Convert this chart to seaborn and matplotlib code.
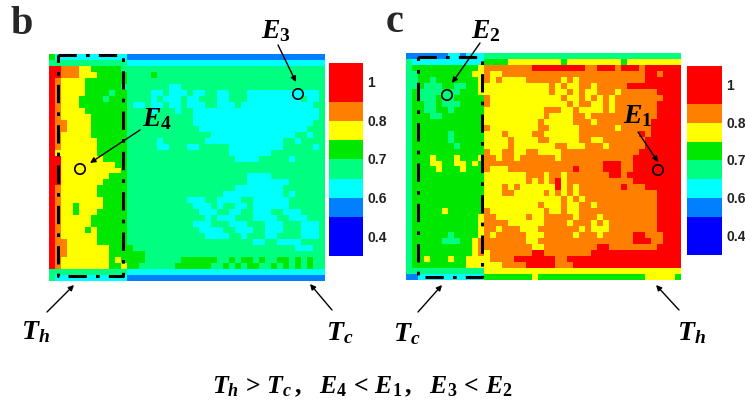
#!/usr/bin/env python3
import numpy as np
import matplotlib
matplotlib.use("Agg")
import matplotlib.pyplot as plt
from matplotlib.colors import ListedColormap
from matplotlib.patches import Circle
import seaborn as sns

# colour bands, low to high
LEVEL_COLORS = ["#0000FF", "#0080FF", "#00FFFF", "#00FF80", "#00E800", "#FFFF00", "#FF8000", "#FF0000"]
CBAR_LEVELS = [7, 7, 6, 5, 4, 3, 2, 1, 0, 0]
CBAR_TICKS = ["1", "0.8", "0.7", "0.6", "0.4"]

# band index per cell (row = top to bottom)
MAP_B = [
    "4222222222222111111111111111111111111111111111",
    "3333333333333222222222222222222222222222222222",
    "7766655444443333333333333333333333333333333333",
    "7766655544444333343333333333333333333333333333",
    "7655554444444333333333333333333333333333333333",
    "7655554444443333333322333333333333333333333333",
    "7655554444344333322322232233223332222222222223",
    "7655544443444333323222322333223332222222223223",
    "7655544444444322322322322233222322222222222233",
    "7655554444444333323332332222222222222222222223",
    "7655555444444333333333332222222222222222222223",
    "7665555444444333333333332222222222222222222233",
    "7665555444444333333333333222222222222222222333",
    "7655555444444333333333333332222222222222233233",
    "7655555544444333332333333322222222222223323333",
    "7655555544444333332233322333332222222223333323",
    "7555555544444333333333333333332222222333333333",
    "7755555554444333333333333333333222233333233333",
    "7755555555544333333333333333333333333333333333",
    "7755555555554333333333333333333333333333333333",
    "7755555555444333333333333333333332222333333333",
    "7755555554444333333333333333333332222222333333",
    "7655555544444333333333333333333222222223333333",
    "7655555544444333333333333333322222222223233333",
    "7655555554444333333333322233222233222222333333",
    "7655455554444333333333332223233223222222333333",
    "7655455544444333333333333222332233222332223333",
    "7655555444444333333333333323222333222233222333",
    "7655555444444333333333332223332223332223332223",
    "7655554544444333333333333222233222332223332223",
    "7655555544444333333333333322223323332233332223",
    "7665555544444333333333333333333333223322223333",
    "7665555555444433333333333333333333333333322233",
    "7665555555444444333333333333333333333333333333",
    "7655555555454444333333444444334344343344343433",
    "7655555555445443333334444443343434433434343433",
    "3333333333333222222222222222222222222222222222",
    "3222222222222111111111111111111111111111111111",
]

MAP_C = [
    "1111111221222333333333333333333333333333333333",
    "3222222222222444455555555545555555554555555555",
    "3444444444445666666667777777776677767776777777",
    "3344444444455655666666666666666666666666776777777",
    "3344344444445656555566666656566666666666777777",
    "3343334433445555555555556565566566666777777777",
    "3433333334445555555555556556565566656666667777",
    "3433343344444655555555555565565656566666666777",
    "3443343334444655555555555556566556566666667777",
    "3443344344444555555555566655655556566666667777",
    "3444334444444555555555565555665666666666667777",
    "3444444444444555555555655555666566666666677777",
    "3444444444444655555555665555566666656666677777",
    "3444444344444555655556655555566666666667677777",
    "3444444344444555565555665555566556666666777777",
    "3444444434444555565555555665556665666666777777",
    "3444444444444655665566555566666666666667777777",
    "3444544454445665665666666566666666666677777777",
    "3444554455454666666666666666666667776677777777",
    "3444454445444655566666666666766667776677777777",
    "3444444444444555555566656656666666776777777777",
    "3444444444444555555565656756666666666677777777",
    "3444444444444555656555555756566666667666777777",
    "3444444444444555665555565656566666666666667777",
    "3444444444444555555555555565656666666666667777",
    "3444444444444555555555655565566566666666667777",
    "3444445444444655555555565565566666666666667777",
    "3444444444445665555565566666566656666666667777",
    "3444444444445666655555566665666565666666667777",
    "3444444444445665666555666666656555666666667777",
    "3444444344445656666655566666566656666677666777",
    "3444443334456666666655666666666666666677766777",
    "3444444444456666666665566666666677666666667777",
    "3444444444456566666667766666666777777777777777",
    "3445444544555566667777777667777777777777777777",
    "3444444444555555666677777666777777777777777777",
    "3333333333333555555555555555555555555555555555",
    "1122222222222444444445444444444444444444555554",
]


def to_grid(rows, width=46):
    rows = [r.ljust(width, r[-1])[:width] for r in rows]
    return np.array([[int(ch) for ch in r] for r in rows])


FIG_W, FIG_H = 745, 411


def px_axes(fig, left, top, right, bottom):
    return fig.add_axes([left / FIG_W, 1 - bottom / FIG_H, (right - left) / FIG_W, (bottom - top) / FIG_H])


def draw_map(fig, rows, box):
    ax = px_axes(fig, *box)
    sns.heatmap(to_grid(rows), cmap=cmap, vmin=-0.5, vmax=7.5, cbar=False,
                xticklabels=False, yticklabels=False, ax=ax)
    return ax


def draw_cbar(fig, box):
    ax = px_axes(fig, *box)
    sns.heatmap(np.array(CBAR_LEVELS).reshape(-1, 1), cmap=cmap, vmin=-0.5, vmax=7.5, cbar=False,
                xticklabels=False, yticklabels=False, ax=ax)
    for i, lab in enumerate(CBAR_TICKS):
        ax.text(1.12, 2 * i + 1.05, lab, fontsize=10, fontweight="bold", color="#222222",
                family="Liberation Sans", va="center", ha="left", transform=ax.get_yaxis_transform())
    return ax


sns.set_theme(style="white")
plt.rcParams["mathtext.fontset"] = "custom"
plt.rcParams["mathtext.rm"] = "Liberation Serif"
plt.rcParams["mathtext.it"] = "Liberation Serif:italic"
plt.rcParams["mathtext.bf"] = "Liberation Serif:bold"
plt.rcParams["mathtext.bfit"] = "Liberation Serif:italic:bold"

cmap = ListedColormap(LEVEL_COLORS)

fig = plt.figure(figsize=(FIG_W / 100, FIG_H / 100), dpi=100)
draw_map(fig, MAP_B, (49, 54, 325, 281))
draw_map(fig, MAP_C, (406, 53, 681, 280))
draw_cbar(fig, (329, 63, 363, 256))
draw_cbar(fig, (687, 66, 722, 255))

# annotations live on a transparent overlay in image pixels
over = fig.add_axes([0, 0, 1, 1], facecolor="none")
over.set_xlim(0, FIG_W)
over.set_ylim(FIG_H, 0)
over.axis("off")

for x0, y0, x1, y1 in [(58, 55, 123, 276), (418, 57, 482, 277)]:
    over.plot([x0, x1, x1, x0, x0], [y0, y0, y1, y1, y0], color="black", lw=2.2,
              linestyle=(0, (6, 3, 1.2, 3)))

for cx, cy in [(80, 169), (298, 94), (447, 95), (658, 170)]:
    over.add_patch(Circle((cx, cy), 5.2, fill=False, ec="black", lw=1.2))

ARROWS = [
    ((47, 312), (74, 285)), ((332, 310), (310, 284)),
    ((418, 312), (442, 285)), ((679, 310), (656, 285)),
    ((140, 130), (90, 163)), ((278, 45), (296, 82)),
    ((480, 43), (452, 83)), ((638, 132), (658, 162)),
]
for start, end in ARROWS:
    over.annotate("", xy=end, xytext=start,
                  arrowprops=dict(arrowstyle="-|>", color="black", lw=1.0, mutation_scale=8, shrinkA=0, shrinkB=0))

over.text(22, 24, "b", fontsize=29, fontweight="bold", family="Liberation Serif", ha="center", va="center")
over.text(395, 23, "c", fontsize=29, fontweight="bold", family="Liberation Serif", ha="center", va="center")

SYMBOLS = [
    (276, 30, r"$\mathbfit{E}_{\mathbf{3}}$"), (157, 118, r"$\mathbfit{E}_{\mathbf{4}}$"),
    (486, 30, r"$\mathbfit{E}_{\mathbf{2}}$"), (638, 115, r"$\mathbfit{E}_{\mathbf{1}}$"),
    (36, 331, r"$\mathbfit{T}_{\mathbfit{h}}$"), (340, 332, r"$\mathbfit{T}_{\mathbfit{c}}$"),
    (407, 333, r"$\mathbfit{T}_{\mathbfit{c}}$"), (692, 332, r"$\mathbfit{T}_{\mathbfit{h}}$"),
]
for x, y, s in SYMBOLS:
    over.text(x, y, s, fontsize=20, ha="center", va="center", color="black")

over.text(362, 386,
          r"$\mathbfit{T}_{\mathbfit{h}}\,\mathbf{>}\,\mathbfit{T}_{\mathbfit{c}}\,\mathbf{,}\quad"
          r"\mathbfit{E}_{\mathbf{4}}\,\mathbf{<}\,\mathbfit{E}_{\mathbf{1}}\,\mathbf{,}\quad"
          r"\mathbfit{E}_{\mathbf{3}}\,\mathbf{<}\,\mathbfit{E}_{\mathbf{2}}$",
          fontsize=18.5, ha="center", va="center", color="black")

fig.savefig("out.png", dpi=100)
